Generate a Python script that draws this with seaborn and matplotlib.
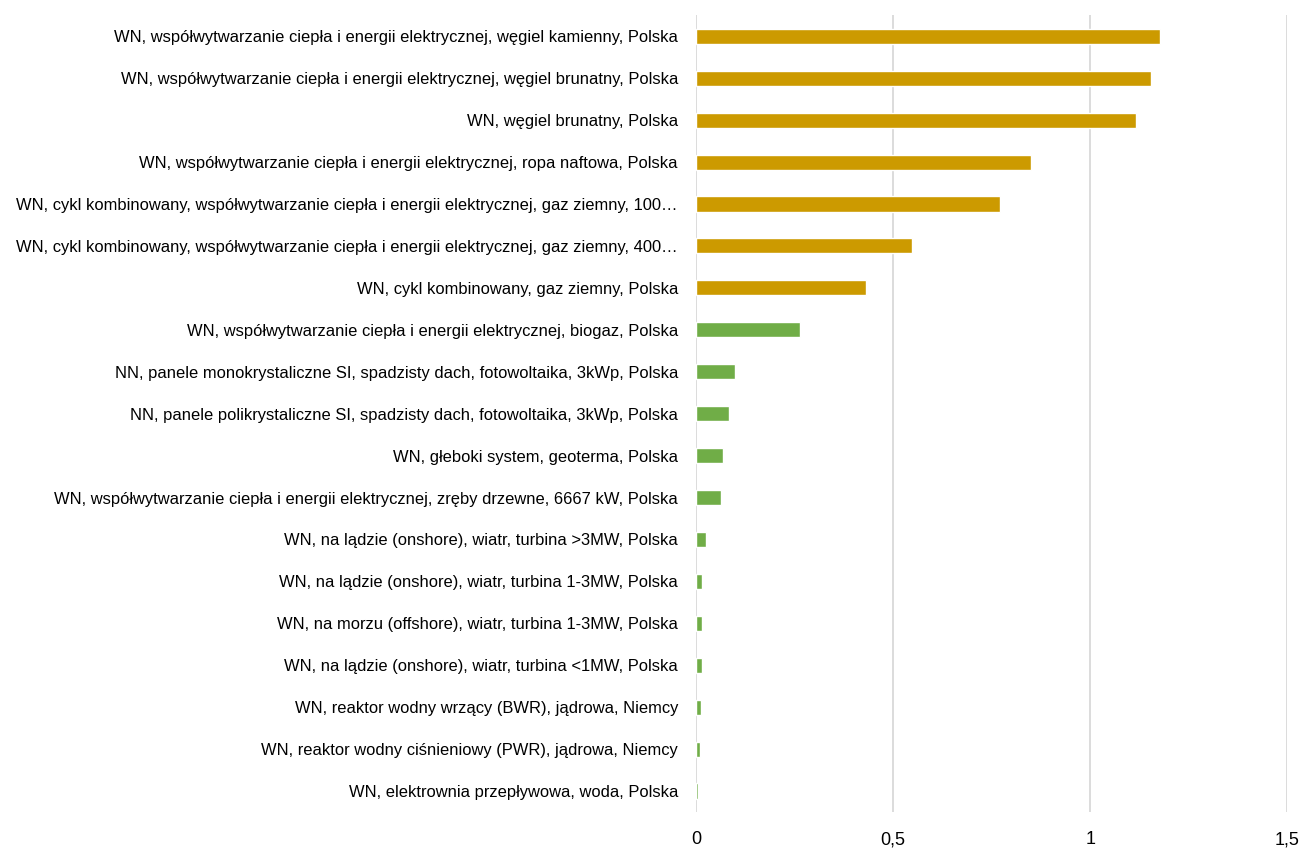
import seaborn as sns
import matplotlib.pyplot as plt
import pandas as pd

# Data
labels = [
    "WN, współwytwarzanie ciepła i energii elektrycznej, węgiel kamienny, Polska",
    "WN, współwytwarzanie ciepła i energii elektrycznej, węgiel brunatny, Polska",
    "WN, węgiel brunatny, Polska",
    "WN, współwytwarzanie ciepła i energii elektrycznej, ropa naftowa, Polska",
    "WN, cykl kombinowany, współwytwarzanie ciepła i energii elektrycznej, gaz ziemny, 100…",
    "WN, cykl kombinowany, współwytwarzanie ciepła i energii elektrycznej, gaz ziemny, 400…",
    "WN, cykl kombinowany, gaz ziemny, Polska",
    "WN, współwytwarzanie ciepła i energii elektrycznej, biogaz, Polska",
    "NN, panele monokrystaliczne SI, spadzisty dach, fotowoltaika, 3kWp, Polska",
    "NN, panele polikrystaliczne SI, spadzisty dach, fotowoltaika, 3kWp, Polska",
    "WN, głeboki system, geoterma, Polska",
    "WN, współwytwarzanie ciepła i energii elektrycznej, zręby drzewne, 6667 kW, Polska",
    "WN, na lądzie (onshore), wiatr, turbina >3MW, Polska",
    "WN, na lądzie (onshore), wiatr, turbina 1-3MW, Polska",
    "WN, na morzu (offshore), wiatr, turbina 1-3MW, Polska",
    "WN, na lądzie (onshore), wiatr, turbina <1MW, Polska",
    "WN, reaktor wodny wrzący (BWR), jądrowa, Niemcy",
    "WN, reaktor wodny ciśnieniowy (PWR), jądrowa, Niemcy",
    "WN, elektrownia przepływowa, woda, Polska",
]
values = [1.176, 1.153, 1.115, 0.851, 0.772, 0.549, 0.432, 0.265, 0.100, 0.085,
          0.069, 0.064, 0.026, 0.016, 0.016, 0.016, 0.013, 0.011, 0.006]
groups = ["kopalne"] * 7 + ["odnawialne"] * 12
colors = {"kopalne": "#CC9A00", "odnawialne": "#70AD47"}

x_ticks = [0, 0.5, 1, 1.5]
x_ticklabels = ["0", "0,5", "1", "1,5"]

df = pd.DataFrame({"label": labels, "value": values, "group": groups})

sns.set_style("white")
plt.rcParams["font.family"] = ["Liberation Sans", "DejaVu Sans"]

fig = plt.figure(figsize=(13.04, 8.52), dpi=100)
ax = fig.add_axes([0.5337, 0.047, 0.4535, 0.935])

sns.barplot(data=df, x="value", y="label", hue="group", palette=colors,
            saturation=1, dodge=False, width=0.36, legend=False, ax=ax, zorder=3)

ax.set_xlim(0, 1.5)
ax.set_xticks(x_ticks)
ax.set_xticklabels(x_ticklabels)
ax.grid(axis="x", color="#D9D9D9", linewidth=1.3, zorder=0)
ax.set_axisbelow(True)
for s in ax.spines.values():
    s.set_visible(False)
ax.tick_params(axis="x", length=0, pad=14, labelsize=13, colors="#000000")
ax.tick_params(axis="y", length=0, pad=13, labelsize=11.9, colors="#000000")
ax.set_xlabel("")
ax.set_ylabel("")

fig.savefig("out.png", dpi=100)
